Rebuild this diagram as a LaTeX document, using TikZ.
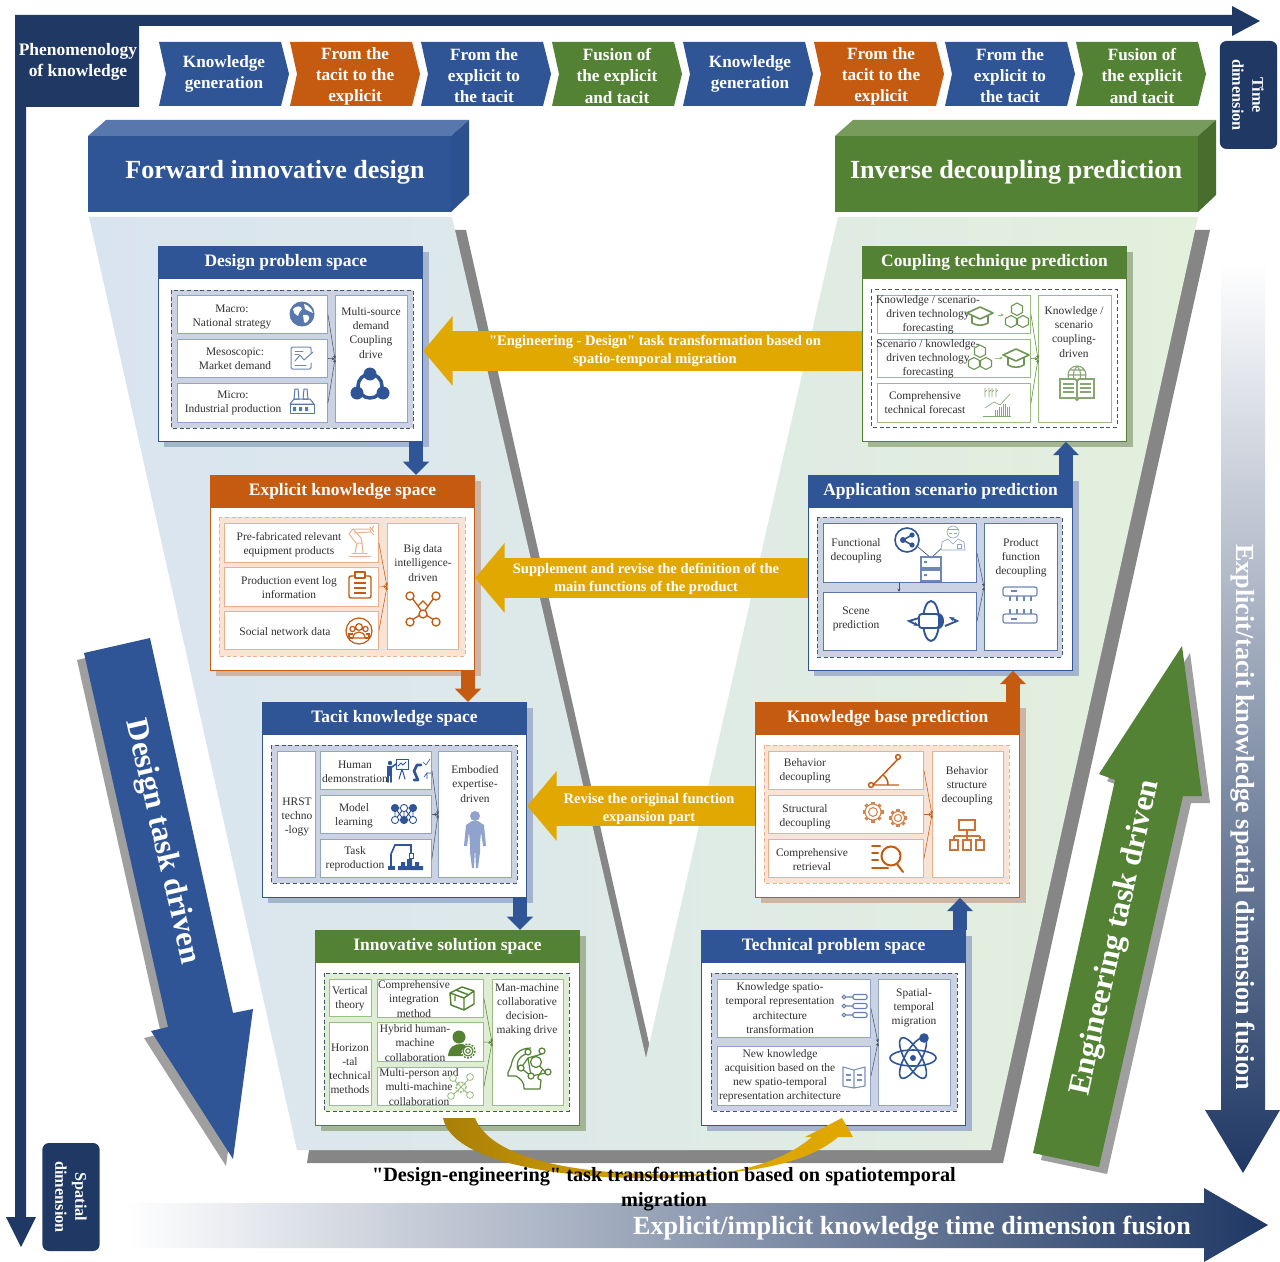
\documentclass[tikz,border=0pt]{standalone}
\usepackage{fontspec}
\setmainfont{Liberation Serif}
\newfontfamily\qfont{Liberation Serif}
\usetikzlibrary{arrows.meta,calc}
\definecolor{navy}{HTML}{1F3864}
\definecolor{cblue}{HTML}{2F5597}
\definecolor{corange}{HTML}{C55A11}
\definecolor{cgreen}{HTML}{548235}
\definecolor{gold}{HTML}{E0A800}
\definecolor{dgold}{HTML}{A87F08}
\definecolor{ink}{HTML}{303030}
\definecolor{fblue}{HTML}{CBD3E3}
\definecolor{forange}{HTML}{F9E3D5}
\definecolor{fgreen}{HTML}{DFEDD5}
\definecolor{sblue}{HTML}{A6B3CC}
\definecolor{sorange}{HTML}{CDB5A6}
\definecolor{sgreen}{HTML}{A3B596}
\definecolor{lblue}{HTML}{8FA3CC}
\definecolor{lorange}{HTML}{EDB08A}
\definecolor{lgreen}{HTML}{98BE80}
\definecolor{dashb}{HTML}{44546A}
\definecolor{vleft}{HTML}{D9E4F1}
\definecolor{vright}{HTML}{E3F0DC}
\newcounter{tc}
\tikzset{
  cellbox/.style={draw,line width=.7pt,fill=white,inner sep=0pt,anchor=north west},
  bodytext/.style={text=ink,align=center,inner sep=0pt,yshift=-.75pt,font=\fontsize{8.6}{10.6}\selectfont},
  titletext/.style={text=white,align=center,inner sep=0pt,font=\bfseries\fontsize{13.1}{15}\selectfont},
  chevtext/.style={text=white,align=center,inner sep=0pt,yshift=-.75pt,font=\bfseries\fontsize{12.9}{15.8}\selectfont},
  goldtext/.style={text=white,align=center,inner sep=0pt,yshift=-1.5pt,font=\qfont\bfseries\fontsize{10.9}{13.5}\selectfont},
  goldarrow/.style={draw=gold,line width=29.5pt,-{Triangle[length=22pt,width=51pt]}},
  blockblue/.style={draw=cblue,line width=10.5pt,-{Triangle[length=10pt,width=19pt]}},
  blockorange/.style={draw=corange,line width=10.5pt,-{Triangle[length=10pt,width=19pt]}},
  conn/.style={line width=.4pt,-{Stealth[length=2.6pt,width=2.4pt]}},
  ic/.style={line width=.75pt,line cap=round,line join=round},
}
% \cell[style]{name}{x1}{y1}{x2}{y2}
\newcommand{\cell}[6][]{\node[cellbox,#1,minimum width={(#5-#3)*0.75pt},minimum height={(#6-#4)*0.75pt}] (#2) at (#3,#4) {};}
\newcommand{\txt}[3]{\stepcounter{tc}\node[bodytext] (t\thetc) at (#1,#2) {#3};}
% \panel{name}{x}{y}{hdr}{shadow}{border}{fill}{dash}{title}
\newcommand{\panel}[9]{%
  \fill[#5] (#2+6,#3+6) rectangle (#2+271,#3+201);
  \node[draw=#6,line width=.9pt,fill=white,inner sep=0pt,anchor=north west,minimum width=198pt,minimum height=146pt] (#1) at (#2,#3) {};
  \node[fill=#4,inner sep=0pt,anchor=north west,minimum width=198.4pt,minimum height=24.75pt,titletext] (#1T) at (#2,#3) {#9};
  \panelfill{#1}{#7}{#8}}
\newcommand{\panelfill}[3]{\def\pfc{#2}\def\pdc{#3}}
\newcommand{\dashregion}[4]{\draw[fill=\pfc,draw=\pdc,dash pattern=on 3pt off 2pt,line width=.7pt] (#1,#2) rectangle (#3,#4);}
% ---------- icons
\newcommand{\icglobe}[3]{\begin{scope}[shift={(#1,#2)}]\fill[#3] (0,0) circle (12.5);
 \fill[white] (-9,-5) .. controls (-5,-9) and (-1,-8) .. (0,-5) .. controls (-2,-2) and (-4,-1) .. (-4,2) .. controls (-7,1) and (-9,-2) .. (-9,-5);
 \fill[white] (2,-10) .. controls (6,-9) and (10,-5) .. (11,-1) .. controls (8,-2) and (5,-4) .. (3,-5) -- cycle;
 \fill[white] (1,1) .. controls (5,0) and (8,2) .. (7,5) .. controls (6,8) and (3,10) .. (2,8) -- cycle;
\end{scope}}
\newcommand{\icchart}[3]{\begin{scope}[shift={(#1,#2)},ic,draw=#3]\draw[rounded corners=1pt] (10,-5) -- (10,-11) -- (-10,-11) -- (-10,11) -- (10,11) -- (10,5);
 \draw (-6,-7) -- (2,-7) (-6,-4) -- (-2,-4) (-6,7) -- (5,7); \draw (-6,3) -- (-1,-3) -- (3,2) -- (12,-6);\end{scope}}
\newcommand{\icfactory}[3]{\begin{scope}[shift={(#1,#2)},ic,draw=#3]
 \draw (-7,-12) -- (-4,-12) -- (-3,-2) -- (-8,-2) -- cycle (2,-12) -- (5,-12) -- (6,-2) -- (1,-2) -- cycle;
 \draw (-12,3) -- (-8,-2) -- (8,-2) -- (12,3) -- cycle; \draw (-12,3) rectangle (12,12);
 \fill[#3] (-9,6) rectangle (-6,10) (-3,6) rectangle (0,10) (3,6) rectangle (6,10);\end{scope}}
\newcommand{\ictri}[3]{\begin{scope}[shift={(#1,#2)}]\draw[#3,line width=2.6pt] (0,3) circle (12);
 \fill[#3] (0,-9) circle (6.5) (-13,10) circle (6.5) (13,10) circle (6.5);\end{scope}}
\newcommand{\icrobot}[3]{\begin{scope}[shift={(#1,#2)},ic,draw=#3]
 \draw (-11,15) -- (11,15) (-8,12) -- (7,12); \draw (-5,12) -- (-3,2) -- (2,2) -- (3,12);
 \draw (-4,2) -- (-11,-7) -- (-7,-12) -- (1,-3) -- (2,2);
 \draw (-7,-12) -- (10,-12) (-6,-8) -- (10,-9); \draw (10,-14) -- (14,-9) (14,-15) -- (10,-10) -- (14,-6);\end{scope}}
\newcommand{\icclip}[3]{\begin{scope}[shift={(#1,#2)},draw=#3,line width=1.1pt,line join=round]
 \draw[rounded corners=1.5pt] (-11,-10) rectangle (11,12); \draw[fill=white] (-5,-14) rectangle (5,-8);
 \draw (-6,-3) -- (6,-3) (-6,2) -- (6,2) (-6,7) -- (6,7);\end{scope}}
\newcommand{\icpeople}[3]{\begin{scope}[shift={(#1,#2)},draw=#3,line width=.9pt]
 \draw (0,0) circle (13); \draw (0,-4) circle (3.4) (-6.5,-2) circle (2.6) (6.5,-2) circle (2.6);
 \draw (-6,7) .. controls (-6,-1) and (6,-1) .. (6,7) -- cycle;
 \draw (-6.5,3) -- (-10,3) -- (-10,7) -- (-6,7) (6.5,3) -- (10,3) -- (10,7) -- (6,7);\end{scope}}
\newcommand{\icnet}[3]{\begin{scope}[shift={(#1,#2)},draw=#3,line width=1pt]
 \draw (-11,-11) -- (-5,-3) -- (0,4) -- (11,11) (11,-11) -- (5,-3) -- (0,4) -- (-11,11) (-5,-3) -- (0,-8) -- (5,-3) ;
 \foreach \p in {(-13,-13),(13,-13),(-13,13),(13,13),(0,5)} \draw[fill=white] \p circle (4);\end{scope}}
\newcommand{\icpresent}[3]{\begin{scope}[shift={(#1,#2)},ic,draw=#3]
 \fill[#3] (-12,-8) circle (2.2); \fill[#3] (-15,-5) rectangle (-10,5); \draw[line width=1.2pt] (-14,5) -- (-14,11) (-11,5) -- (-11,11) (-10,-4) -- (-6,-7);
 \draw (-6,-12) rectangle (6,-2); \draw (-4,-5) -- (-1,-8) -- (1,-6) -- (4,-9); \draw (0,-2) -- (-3,8) (0,-2) -- (3,8);
 \draw[line width=2pt] (12,9) -- (16,9) -- (12,0) -- (15,-6) -- (19,-6);
 \draw[line width=.5pt] (21,-9) -- (24,-6) -- (28,-12) (22,6) -- (25,2) -- (29,2) (25,2) -- (25,8);\end{scope}}
\newcommand{\icneural}[3]{\begin{scope}[shift={(#1,#2)},draw=#3,line width=.7pt]
 \draw (-9,-6) -- (-9,6) -- (0,-6) -- (0,6) -- (9,-6) -- (9,6) -- (0,6) -- (-9,-6) (-9,-6) -- (9,-6) (-9,6) -- (0,6) (0,-6) -- (9,6);
 \filldraw[fill=#3] (-9,-6) circle (3.6) (9,-6) circle (3.6) (0,6) circle (3.6);
 \filldraw[fill=white] (0,-6) circle (3.6) (-9,6) circle (3.6) (9,6) circle (3.6);\end{scope}}
\newcommand{\iclab}[3]{\begin{scope}[shift={(#1,#2)},draw=#3]
 \draw[line width=1.2pt] (-16,12) -- (-16,-3) (-16,-3) -- (-12,-12) -- (4,-12) -- (4,-4);
 \fill[#3] (-19,9) rectangle (-12,13); \draw[line width=.6pt] (2,-4) rectangle (6,1);
 \fill[#3] (-9,9) rectangle (16,13) (-6,5) rectangle (-2,9) (0,2) rectangle (5,9) (8,5) rectangle (12,9);\end{scope}}
\newcommand{\icbody}[3]{\begin{scope}[shift={(#1,#2)}]\fill[#3] (0,-22) circle (5);
 \fill[#3] (-3,-17) -- (3,-17) -- (9,-13) -- (11,8) -- (8,8) -- (6,-6) -- (5,6) -- (5,14) -- (3,30) -- (1,30) -- (0,10) -- (-1,30) -- (-3,30) -- (-5,14) -- (-5,6) -- (-6,-6) -- (-8,8) -- (-11,8) -- (-9,-13) -- cycle;\end{scope}}
\newcommand{\iccube}[3]{\begin{scope}[shift={(#1,#2)},draw=#3,line width=1.1pt,line join=round]
 \draw (-12,-5) -- (0,-11) -- (12,-7) -- (12,6) -- (2,12) -- (-11,7) -- cycle (-12,-5) -- (2,0) -- (12,-7) (2,0) -- (2,12) (-6,-8) -- (7,-3) (-7,-2) -- (-7,3);\end{scope}}
\newcommand{\icperson}[3]{\begin{scope}[shift={(#1,#2)}]\fill[#3] (-2,-7) circle (6.5); \fill[#3] (-13,12) .. controls (-12,2) and (-6,0) .. (0,0) .. controls (4,0) and (5,2) .. (5,3) .. controls (-1,6) and (-1,10) .. (1,12) -- cycle;
 \draw[#3,line width=1pt,dash pattern=on 1.5pt off 1pt] (7,7) circle (7); \draw[#3,line width=.8pt] (7,7) circle (5) (7,7) circle (2.2);\end{scope}}
\newcommand{\icgnet}[3]{\begin{scope}[shift={(#1,#2)},draw=#3,line width=.6pt]
 \draw[dash pattern=on 1.5pt off 1pt,line width=1.2pt] (0,0) circle (5); \draw (-8,-8) -- (8,8) (8,-8) -- (-8,8);
 \foreach \p in {(-8,-9),(9,-10),(-10,9),(9,8)} \draw[fill=white] \p circle (3.4);\end{scope}}
\newcommand{\icbrain}[3]{\begin{scope}[shift={(#1,#2)},draw=#3,line width=.9pt,line join=round]
 \draw (-4,21) -- (12,21) -- (13,12) .. controls (5,10) and (14,6) .. (14,2) (-4,21) .. controls (-3,15) and (-8,10) .. (-12,8) -- (-20,8) .. controls (-21,2) and (-17,2) .. (-17,-2) .. controls (-15,-14) and (-8,-20) .. (3,-20);
 \draw (-10,2) .. controls (-13,-8) and (-6,-14) .. (2,-15);
 \draw (0,-10) -- (-7,0) -- (3,8) -- (0,-10) -- (14,-14) (3,8) -- (18,5) (8,-6) -- (18,5);
 \draw[fill=white] (8,-6) circle (5.5); \foreach \p in {(14,-17),(-7,0),(3,8),(0,-16),(20,4)} \draw[fill=white] \p circle (3);\end{scope}}
\newcommand{\ichat}[3]{\begin{scope}[shift={(#1,#2)},draw=#3,line width=1.2pt,line join=round]
 \draw (0,-8) -- (13,-2) -- (0,4) -- (-13,-2) -- cycle; \draw (-8,1) -- (-8,8) .. controls (-3,11) and (3,11) .. (8,8) -- (8,1);\end{scope}}
\newcommand{\ichex}[3]{\begin{scope}[shift={(#1,#2)},draw=#3,line width=.8pt]
 \draw (0,-15) -- (5.5,-12) -- (5.5,-5.5) -- (0,-2.5) -- (-5.5,-5.5) -- (-5.5,-12) -- cycle;
 \draw (-6,-2.5) -- (-.5,.5) -- (-.5,6.5) -- (-6,9.5) -- (-11.5,6.5) -- (-11.5,.5) -- cycle;
 \draw (6,-2.5) -- (11.5,.5) -- (11.5,6.5) -- (6,9.5) -- (.5,6.5) -- (.5,.5) -- cycle;\end{scope}}
\newcommand{\icbars}[3]{\begin{scope}[shift={(#1,#2)},draw=#3,line width=.5pt]
 \foreach \x/\h in {-2/6,2/9,6/12,10/9} \draw (\x,14) -- (\x,14-\h) (\x+2,14) -- (\x+2,14-\h);
 \draw (-14,14) -- (14,14); \draw (-12,6) -- (-3,0) -- (3,3) -- (13,-8);
 \foreach \x in {-12,-8,-5,-1} \draw (\x,-14) -- (\x,-5) (\x,-10) -- (\x+2,-12);\end{scope}}
\newcommand{\icbookg}[3]{\begin{scope}[shift={(#1,#2)},draw=#3,line width=.8pt]
 \draw (0,-9) circle (9) (-9,-9) -- (9,-9) (0,-18) .. controls (-5,-13) and (-5,-4) .. (0,0) (0,-18) .. controls (5,-13) and (5,-4) .. (0,0) (-7,-14) -- (7,-14) (-7,-4) -- (7,-4);
 \draw[line width=1.4pt,fill=white] (-17,-5) -- (-2,-5) -- (0,-3) -- (2,-5) -- (17,-5) -- (17,14) -- (2,14) -- (0,16) -- (-2,14) -- (-17,14) -- cycle;
 \draw (-14,0) -- (-3,0) (-14,4) -- (-3,4) (-14,8) -- (-3,8) (3,0) -- (14,0) (3,4) -- (14,4) (3,8) -- (14,8) (0,-3) -- (0,16);\end{scope}}
\newcommand{\icshare}[3]{\begin{scope}[shift={(#1,#2)},draw=#3]
 \draw[line width=1.2pt,fill=white] (0,0) circle (12); \draw[line width=1.2pt] (5,-5) -- (-4,0) -- (5,5); \fill[#3] (5,-5) circle (2.6) (-4,0) circle (3) (5,5) circle (2.6);\end{scope}}
\newcommand{\icdoctor}[3]{\begin{scope}[shift={(#1,#2)},draw=#3,line width=.5pt]
 \draw[fill=white] (0,-6) circle (6); \draw (-5,-9) -- (5,-9) (-4,-5) -- (-1,-5) (1,-5) -- (4,-5);
 \draw[fill=white] (-12,12) -- (-11,4) -- (-5,1) -- (0,6) -- (5,1) -- (11,4) -- (12,12) -- cycle; \draw (4,6) rectangle (8,10);\end{scope}}
\newcommand{\icserver}[3]{\begin{scope}[shift={(#1,#2)},draw=#3,line width=.8pt]
 \draw (-10,-12) rectangle (10,-1) (-10,1) rectangle (10,12); \fill[#3] (-7,-8) rectangle (-4,-6) (-7,5) rectangle (-4,7);\end{scope}}
\newcommand{\icorbit}[3]{\begin{scope}[shift={(#1,#2)},draw=#3]
 \draw[line width=1.4pt] (0,0) ellipse (8 and 20); \draw[line width=1.4pt,fill=white,rounded corners=2pt] (-12,-7) rectangle (8,7);
 \fill[#3] (7,-8) .. controls (15,-8) and (15,8) .. (7,8) -- cycle;
 \draw[line width=1.4pt,-{Stealth[length=4pt]}] (-12,-3) -- (-22,0) -- (-12,5);
 \draw[line width=1.4pt,-{Stealth[length=4pt]}] (14,5) -- (26,0) -- (18,-4);\end{scope}}
\newcommand{\icdecouple}[3]{\begin{scope}[shift={(#1,#2)},draw=#3,line width=.9pt]
 \draw[rounded corners=1.5pt] (-17,-18) rectangle (17,-9); \draw[rounded corners=1.5pt] (-17,9) rectangle (17,18);
 \draw (-9,-14) -- (-3,-14) (-9,14) -- (-3,14) (-10,-9) -- (-10,-4) (-3,-9) -- (-3,-4) (4,-9) -- (4,-4) (11,-9) -- (11,-4) (-10,9) -- (-10,4) (-3,9) -- (-3,4) (4,9) -- (4,4) (11,9) -- (11,4);\end{scope}}
\newcommand{\iclink}[3]{\begin{scope}[shift={(#1,#2)},draw=#3,line width=1.1pt]
 \draw (-12,14) -- (14,14) (-12,14) -- (14,-13) (-2,4) .. controls (2,7) and (3,10) .. (3,14);
 \draw[fill=white] (-14,14) circle (2.4) (13,-14) circle (2.4);\end{scope}}
\newcommand{\icgear}[4]{\begin{scope}[shift={(#1,#2)},draw=#3,line width=.8pt]
 \foreach \a in {0,45,...,315} \draw[line width=2.4pt] ({(#4-1.5)*cos(\a)},{(#4-1.5)*sin(\a)}) -- ({(#4+2.5)*cos(\a)},{(#4+2.5)*sin(\a)});
 \draw[fill=white] (0,0) circle (#4); \draw (0,0) circle (#4*.55);\end{scope}}
\newcommand{\icmag}[3]{\begin{scope}[shift={(#1,#2)},draw=#3,line width=1.5pt,line cap=round]
 \draw (-19,-12) -- (-11,-12) (-19,-5) -- (-13,-5) (-19,2) -- (-13,2) (-19,10) -- (-3,10); \draw (0,-2) circle (9.5); \draw (6,6) -- (12,14);\end{scope}}
\newcommand{\icorg}[3]{\begin{scope}[shift={(#1,#2)},draw=#3,line width=1.1pt]
 \draw (-8,-16) rectangle (8,-6) (0,-6) -- (0,0) (-13,0) -- (13,0) (-13,0) -- (-13,4) (0,0) -- (0,4) (13,0) -- (13,4);
 \draw (-17,4) rectangle (-9,14) (-4,4) rectangle (4,14) (9,4) rectangle (17,14);\end{scope}}
\newcommand{\iclist}[3]{\begin{scope}[shift={(#1,#2)},draw=#3,line width=.8pt]
 \foreach \y in {-9,0,9} {\draw (-11,\y) circle (1.8) (-9,\y) -- (-2,\y); \draw[rounded corners=1pt] (-2,{\y-2.5}) rectangle (12,{\y+2.5});}\end{scope}}
\newcommand{\icopen}[3]{\begin{scope}[shift={(#1,#2)},draw=#3,line width=.8pt]
 \draw (0,-7) -- (-11,-10) -- (-11,9) -- (0,11) -- (11,9) -- (11,-10) -- cycle (0,-7) -- (0,11);
 \draw (-8,-2) -- (-3,-2) (-8,3) -- (-3,3) (3,-2) -- (8,-2) (3,3) -- (8,3);\end{scope}}
\newcommand{\icatom}[3]{\begin{scope}[shift={(#1,#2)},draw=#3,line width=1.2pt]
 \draw (0,0) ellipse (23 and 8); \draw[rotate=60] (0,0) ellipse (23 and 8); \draw[rotate=-60] (0,0) ellipse (23 and 8);
 \fill[#3] (0,0) circle (3) (11,-20) circle (4.8);\end{scope}}
\begin{document}
\begin{tikzpicture}[x=0.75pt,y=-0.75pt]
\useasboundingbox (0,0) rectangle (1280,1262);
\fill[white] (0,0) rectangle (1280,1262);
% frame and axes
\fill[navy] (15,15) -- (1232,15) -- (1232,6) -- (1260,21) -- (1232,36) -- (1232,26) -- (139,26) -- (139,107) -- (26,107) -- (26,1217) -- (36,1217) -- (21,1247) -- (6,1217) -- (15,1217) -- cycle;
\node[text=white,align=center,inner sep=0pt,font=\bfseries\fontsize{13.1}{15.4}\selectfont] (phen) at (78,62) {Phenomenology\\of knowledge};
% chevrons
\foreach \x/\c/\cx/\cy/\t in {159/cblue/224/73/{Knowledge\\generation},290/corange/355/75/{From the\\tacit to the\\explicit},421/cblue/484/75/{From the\\explicit to\\the tacit},552/cgreen/617/75/{Fusion of\\the explicit\\and tacit},683/cblue/750/73/{Knowledge\\generation},814/corange/881/75/{From the\\tacit to the\\explicit},945/cblue/1010/75/{From the\\explicit to\\the tacit},1076/cgreen/1142/75/{Fusion of\\the explicit\\and tacit}}{
  \fill[\c] (\x,42) -- (\x+122,42) -- (\x+130,74) -- (\x+122,106) -- (\x,106) -- (\x+7,74) -- cycle;
  \node[chevtext] at (\cx,\cy) {\t};
}
% dimension tags
\node[fill=navy,rounded corners=5pt,minimum width=43pt,minimum height=81pt,inner sep=0pt] (timetag) at (1248.5,95) {};
\node[rotate=-90,text=white,align=center,inner sep=0pt,font=\bfseries\fontsize{12.2}{15}\selectfont] (timetext) at (1248,95) {Time\\dimension};
\node[fill=navy,rounded corners=5pt,minimum width=43pt,minimum height=81pt,inner sep=0pt] (spacetag) at (71,1197) {};
\node[rotate=-90,text=white,align=center,inner sep=0pt,font=\bfseries\fontsize{12.2}{15}\selectfont] (spacetext) at (71,1197) {Spatial\\dimension};
% V background
\fill[gray!95] (452,230) -- (466,230) -- (655,1070) -- (852,230) -- (1210,230) -- (1003,1163) -- (307,1163) -- cycle;
\shade[left color=vleft,right color=vright] (89,217) -- (452,217) -- (646,1058) -- (838,217) -- (1198,217) -- (991,1150) -- (297,1150) -- cycle;
% 3D headers
\fill[cblue] (88,136) rectangle (451,212);
\fill[cblue!80!white] (88,136) -- (106,120) -- (469,120) -- (451,136) -- cycle;
\fill[cblue!85!navy] (451,136) -- (469,120) -- (469,195) -- (451,212) -- cycle;
\node[text=white,inner sep=0pt,font=\bfseries\fontsize{19.6}{24}\selectfont] (fwd) at (275,172) {Forward innovative design};
\fill[cgreen] (835,136) rectangle (1198,212);
\fill[cgreen!80!white] (835,136) -- (853,120) -- (1216,120) -- (1198,136) -- cycle;
\fill[cgreen!85!black] (1198,136) -- (1216,120) -- (1216,195) -- (1198,212) -- cycle;
\node[text=white,inner sep=0pt,font=\bfseries\fontsize{19.6}{24}\selectfont] (inv) at (1016,172) {Inverse decoupling prediction};
% big side arrows
\fill[gray!75] (77,660) -- (143,645) -- (226,1020) -- (246,1016) -- (226,1166) -- (144,1038) -- (161,1034) -- cycle;
\fill[cblue] (84,653) -- (150,638) -- (233,1013) -- (253,1009) -- (233,1159) -- (151,1031) -- (168,1027) -- cycle;
\node[rotate=-77,text=white,inner sep=0pt,font=\bfseries\fontsize{23.6}{26}\selectfont] (dtd) at (162,842) {Design task driven};
\fill[gray!75] (1041,1160) -- (1107,1174) -- (1191,803) -- (1210,803) -- (1190,653) -- (1107,781) -- (1123,787) -- cycle;
\fill[cgreen] (1033,1153) -- (1099,1167) -- (1183,796) -- (1202,796) -- (1182,646) -- (1099,774) -- (1115,780) -- cycle;
\node[rotate=77.5,text=white,inner sep=0pt,font=\bfseries\fontsize{23.5}{26}\selectfont] (etd) at (1116,938) {Engineering task driven};
% fusion axes
\shade[top color=white,bottom color=navy] (1221,262) -- (1265,262) -- (1265,1110) -- (1280,1110) -- (1243,1173) -- (1205,1110) -- (1221,1110) -- cycle;
\node[rotate=-90,text=white,inner sep=0pt,font=\bfseries\fontsize{19.6}{24}\selectfont] (spatialfusion) at (1243,817) {Explicit/tacit knowledge spatial dimension fusion};
\shade[left color=white,right color=navy] (125,1203) -- (1204,1203) -- (1204,1188) -- (1268,1225) -- (1204,1262) -- (1204,1248) -- (125,1248) -- cycle;
\node[text=white,inner sep=0pt,font=\bfseries\fontsize{19.6}{24}\selectfont] (timefusion) at (912,1228) {Explicit/implicit knowledge time dimension fusion};

% ---------- Design problem space
\panel{design}{158}{246}{cblue}{sblue}{cblue}{fblue}{dashb}{\kern-7pt Design problem space}
\dashregion{171}{290}{413}{428}
\tikzset{cellbox/.append style={draw=lblue}}
\cell{d1}{177}{295}{327}{333}\cell{d2}{177}{339}{327}{377}\cell{d3}{177}{383}{327}{422}\cell{d4}{335}{295}{407}{422}
\txt{232}{316}{Macro:\\National strategy}\txt{235}{358}{Mesoscopic:\\Market demand}\txt{233}{402}{Micro:\\Industrial production}\txt{371}{332}{Multi-source\\demand\\Coupling\\drive}
\icglobe{302}{314}{cblue!80!white}\icchart{301}{358}{cblue!70!white}\icfactory{302}{401}{cblue!80!white}\ictri{370}{383}{cblue}
\foreach \r in {d1,d2,d3} \draw[conn,dashb] (\r.east) -- (d4.west);
% ---------- Explicit knowledge space
\panel{explicit}{210}{475}{corange}{sorange}{corange}{forange}{lorange}{Explicit knowledge space}
\dashregion{219}{517}{465}{656}
\tikzset{cellbox/.append style={draw=lorange}}
\cell{e1}{224}{523}{378}{562}\cell{e2}{224}{567}{378}{606}\cell{e3}{224}{611}{378}{649}\cell{e4}{387}{523}{458}{649}
\txt{289}{544}{Pre-fabricated relevant\\equipment products}\txt{289}{587}{Production event log\\information}\txt{285}{631}{Social network data}\txt{423}{562}{Big data\\intelligence-\\driven}
\icrobot{360}{541}{lorange}\icclip{360}{586}{corange}\icpeople{359}{631}{corange}\icnet{423}{609}{corange}
\foreach \r in {e1,e2,e3} \draw[conn,corange] (\r.east) -- (e4.west);
% ---------- Tacit knowledge space
\panel{tacit}{262}{702}{cblue}{sblue}{cblue}{fblue}{dashb}{Tacit knowledge space}
\dashregion{271}{745}{517}{883}
\tikzset{cellbox/.append style={draw=lblue}}
\cell{c0}{277}{751}{315}{877}\cell{c1}{320}{751}{431}{789}\cell{c2}{320}{795}{431}{833}\cell{c3}{320}{839}{431}{877}\cell{c4}{438}{751}{511}{877}
\txt{297}{816}{HRST\\techno\\-logy}\txt{355}{771}{Human\\demonstration}\txt{354}{815}{Model\\learning}\txt{355}{858}{Task\\reproduction}\txt{475}{783}{Embodied\\expertise-\\driven}
\icpresent{402}{771}{cblue}\icneural{404}{814}{cblue}\iclab{407}{857}{cblue}\icbody{475}{838}{lblue}
\foreach \r in {c1,c2,c3} \draw[conn,dashb] (\r.east) -- (c4.west);
% ---------- Innovative solution space
\panel{innov}{315}{930}{cgreen}{sgreen}{cgreen}{fgreen}{dashb}{Innovative solution space}
\dashregion{324}{973}{569}{1111}
\tikzset{cellbox/.append style={draw=lgreen}}
\cell{i0}{329}{979}{371}{1016}\cell{i5}{329}{1022}{371}{1105}\cell{i1}{377}{979}{483}{1017}\cell{i2}{377}{1022}{483}{1061}\cell{i3}{377}{1067}{483}{1105}\cell{i4}{492}{979}{563}{1105}
\txt{350}{998}{Vertical\\theory}\txt{350}{1068}{Horizon\\-tal\\technical\\methods}\txt{414}{998}{Comprehensive\\integration\\method}\txt{415}{1042}{Hybrid human-\\machine\\collaboration}\txt{419}{1086}{Multi-person and\\multi-machine\\collaboration}\txt{527}{1009}{Man-machine\\collaborative\\decision-\\making drive}
\iccube{462}{998}{cgreen}\icperson{461}{1044}{cgreen}\icgnet{461}{1087}{lgreen}\icbrain{528}{1068}{cgreen}
\foreach \r in {i1,i2,i3} \draw[conn,cgreen] (\r.east) -- (i4.west);
% ---------- Coupling technique prediction
\panel{coupling}{862}{246}{cgreen}{sgreen}{cgreen}{white}{dashb}{Coupling technique prediction}
\dashregion{871}{289}{1117}{427}
\cell{k1}{877}{295}{1030}{333}\cell{k2}{877}{339}{1030}{377}\cell{k3}{877}{383}{1030}{422}\cell{k4}{1038}{295}{1111}{422}
\txt{928}{314}{Knowledge / scenario-\\driven technology\\forecasting}\txt{928}{358}{Scenario / knowledge-\\driven technology\\forecasting}\txt{925}{402}{Comprehensive\\technical forecast}\txt{1074}{331}{Knowledge /\\scenario\\coupling-\\driven}
\ichat{980}{315}{cgreen!85!white}\ichex{1017}{318}{cgreen!85!white}\ichex{980}{360}{cgreen!85!white}\ichat{1016}{357}{cgreen!85!white}\icbars{997}{402}{cgreen!70!white}\icbookg{1077}{384}{cgreen!70!white}
\draw[conn,lgreen] (998,315) -- (1004,315); \draw[conn,lgreen] (995,358) -- (1003,358);
\foreach \r in {k1,k2,k3} \draw[conn,cgreen] (\r.east) -- (k4.west);
% ---------- Application scenario prediction
\panel{appl}{808}{475}{cblue}{sblue}{cblue}{fblue}{dashb}{Application scenario prediction}
\dashregion{817}{517}{1062}{657}
\tikzset{cellbox/.append style={draw=cblue!80!white}}
\cell{a1}{823}{523}{976}{582}\cell{a2}{823}{592}{976}{650}\cell{a3}{984}{523}{1057}{650}
\txt{856}{550}{Functional\\decoupling}\txt{856}{618}{Scene\\prediction}\txt{1021}{557}{Product\\function\\decoupling}
\draw[line width=.5pt,dashb] (931,558) -- (912,542) (931,558) -- (945,545);
\icshare{907}{540}{cblue}\icdoctor{953}{538}{lblue}\icserver{931}{569}{cblue!70!white}\icorbit{931}{621}{cblue}\icdecouple{1020}{605}{cblue!70!white}
\foreach \r in {a1,a2} \draw[conn,dashb] (\r.east) -- (a3.west);
\coordinate (xg) at (899,0);
\draw[conn,dashb] (a1.south -| xg) -- (a2.north -| xg);
% ---------- Knowledge base prediction
\panel{kbase}{755}{702}{corange}{sorange}{corange}{forange}{lorange}{Knowledge base prediction}
\dashregion{764}{745}{1009}{883}
\tikzset{cellbox/.append style={draw=lorange}}
\cell{b1}{768}{751}{923}{789}\cell{b2}{768}{795}{923}{833}\cell{b3}{768}{839}{923}{877}\cell{b4}{932}{751}{1003}{877}
\txt{805}{770}{Behavior\\decoupling}\txt{805}{816}{Structural\\decoupling}\txt{812}{859}{Comprehensive\\retrieval}\txt{967}{785}{Behavior\\structure\\decoupling}
\iclink{885}{771}{corange}\icgear{873}{812}{corange!75!white}{8}\icgear{898}{818}{corange!75!white}{6.5}\icmag{891}{858}{corange}\icorg{967}{836}{corange!85!white}
\foreach \r in {b1,b2,b3} \draw[conn,corange] (\r.east) -- (b4.west);
% ---------- Technical problem space
\panel{techp}{701}{930}{cblue}{sblue}{cblue}{fblue}{dashb}{Technical problem space}
\dashregion{711}{973}{957}{1111}
\tikzset{cellbox/.append style={draw=lblue}}
\cell{p1}{717}{979}{870}{1037}\cell{p2}{717}{1046}{870}{1105}\cell{p3}{878}{979}{950}{1105}
\txt{780}{1007}{Knowledge spatio-\\temporal representation\\architecture\\transformation}\txt{780}{1075}{New knowledge\\acquisition based on the\\new spatio-temporal\\representation architecture}\txt{914}{1007}{Spatial-\\temporal\\migration}
\iclist{855}{1006}{cblue!75!white}\icopen{854}{1077}{cblue!65!white}\icatom{913}{1058}{cblue}
\foreach \r in {p1,p2} \draw[conn,dashb] (\r.east) -- (p3.west);
% ---------- space-to-space arrows
\coordinate (xa) at (416,0);\coordinate (xb) at (468,0);\coordinate (xc) at (520,0);\coordinate (xd) at (960,0);\coordinate (xe) at (1013,0);\coordinate (xf) at (1066,0);
\draw[blockblue] (design.south -| xa) -- (explicitT.north -| xa);
\draw[blockorange] (explicit.south -| xb) -- (tacitT.north -| xb);
\draw[blockblue] (tacit.south -| xc) -- (innovT.north -| xc);
\draw[blockblue] (techpT.north -| xd) -- (kbase.south -| xd);
\draw[blockorange] (kbaseT.north -| xe) -- (appl.south -| xe);
\draw[blockblue] (applT.north -| xf) -- (coupling.south -| xf);
% gold transformation arrows
\draw[goldarrow] ($(coupling.west)+(0,7)$) -- ($(design.east)+(0,7)$);
\node[goldtext] (g1) at (655,349) {"Engineering - Design" task transformation based on\\spatio-temporal migration};
\draw[goldarrow] ($(appl.west)+(0,5)$) -- ($(explicit.east)+(0,5)$);
\node[goldtext] (g2) at (646,577) {Supplement and revise the definition of the\\main functions of the product};
\draw[goldarrow] ($(kbase.west)+(0,6)$) -- ($(tacit.east)+(0,6)$);
\node[goldtext] (g3) at (649,807) {Revise the original function\\expansion part};
% swoosh
\shade[left color=dgold,right color=gold,middle color=gold!85!dgold] (443,1118) .. controls (452,1162) and (560,1180) .. (665,1178) .. controls (740,1176) and (785,1160) .. (812,1137) -- (805,1137) -- (842,1118) -- (853,1137) -- (838,1137) .. controls (800,1170) and (720,1177) .. (650,1174) .. controls (560,1172) and (490,1155) .. (475,1118) -- cycle;
\node[text=black,align=center,inner sep=0pt,font=\qfont\bfseries\fontsize{15.2}{18.8}\selectfont] (bottomlabel) at (664,1189) {"Design-engineering" task transformation based on spatiotemporal\\migration};
\end{tikzpicture}
\end{document}
